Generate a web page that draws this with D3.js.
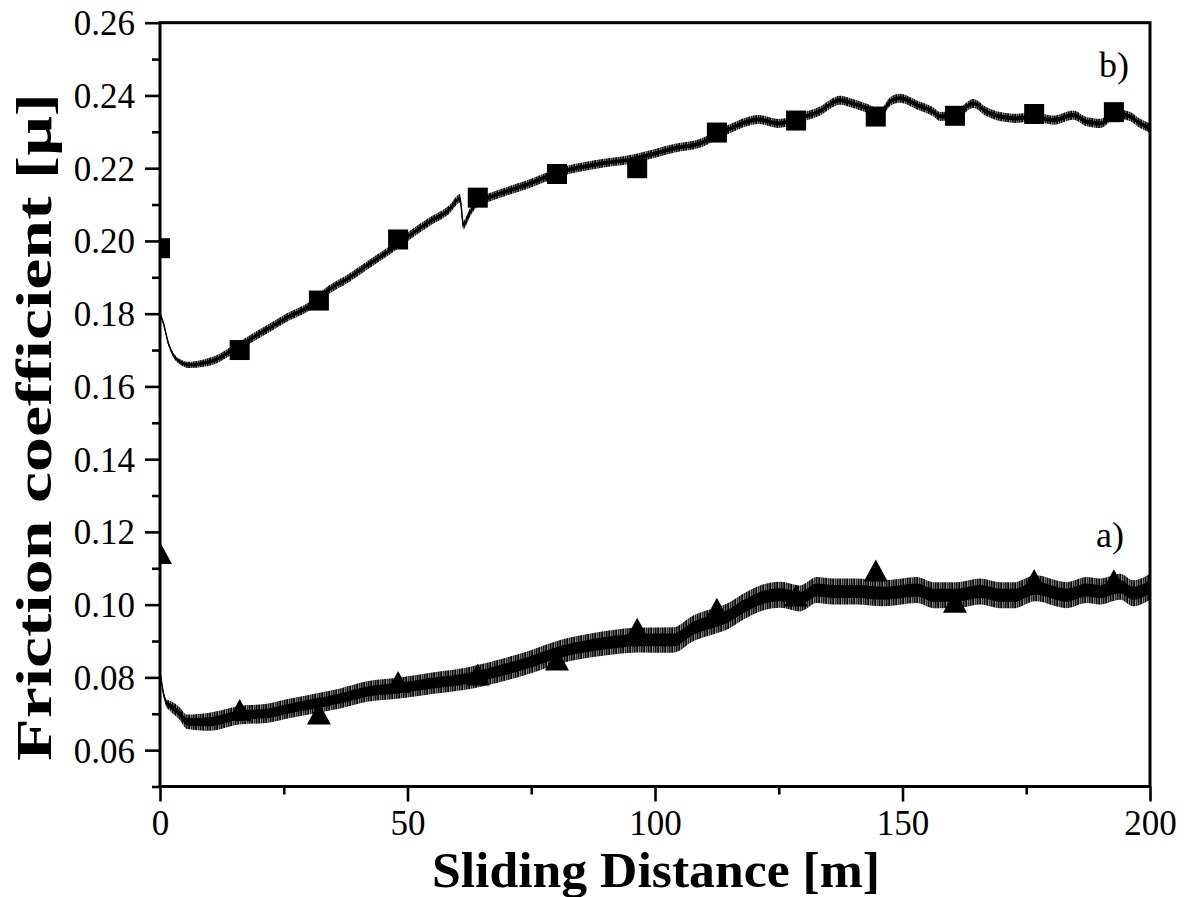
<!DOCTYPE html>
<html>
<head>
<meta charset="utf-8">
<script src="https://cdn.jsdelivr.net/npm/d3@7"></script>
<style>
  html, body { margin: 0; padding: 0; background: #fff; }
  svg { display: block; }
  text { font-family: "Liberation Serif", "Times New Roman", serif; fill: #000; }
</style>
</head>
<body>
<svg id="chart" width="1184" height="897"></svg>
<script>
// ---------- data ----------
// series b) : upper curve (squares)
const distB = [0, 0.7, 1.7, 2.7, 4, 6, 8.8, 11.5, 14, 18, 22, 26, 30, 34, 38, 42, 46.5, 50.5, 54.5, 58.5, 60.6, 61.3, 62.5, 64, 67, 74, 81, 87.5, 96, 104, 109, 114.5, 121, 125, 129, 133, 137.4, 140, 142.8, 145.5, 147.5, 149.5, 152.9, 156.2, 157.6, 161.6, 164.3, 167, 169.7, 173.1, 176.4, 180.5, 184.5, 187.2, 190, 193, 196, 198, 200];
const fricB = [0.1801, 0.1773, 0.1718, 0.1686, 0.1668, 0.1659, 0.1664, 0.1675, 0.1695, 0.1728, 0.1760, 0.1792, 0.1819, 0.1865, 0.1897, 0.1934, 0.1975, 0.2016, 0.2053, 0.2087, 0.2117, 0.2044, 0.2075, 0.2105, 0.2122, 0.2154, 0.2190, 0.2209, 0.2227, 0.2255, 0.2268, 0.2305, 0.2334, 0.2323, 0.2337, 0.2355, 0.2387, 0.2378, 0.2365, 0.2351, 0.2383, 0.2392, 0.2374, 0.2355, 0.2342, 0.2355, 0.2378, 0.2355, 0.2342, 0.2337, 0.2342, 0.2332, 0.2346, 0.2328, 0.2323, 0.2350, 0.2342, 0.2323, 0.2310];

// series a) : lower curve (triangles)
const distA = [0, 0.7, 1.3, 2, 4, 5.4, 10, 16, 21.5, 26.3, 31.7, 36.4, 41.8, 48, 55, 62, 68, 74, 81, 87.5, 92.3, 96.6, 103.7, 107.7, 112.6, 114.5, 117.8, 121.2, 125.3, 129.3, 132.7, 136, 140.7, 146.2, 152.9, 156.2, 161, 165.7, 169.7, 172.6, 176.8, 183.2, 187.2, 189.9, 194, 196.6, 200];
const fricA = [0.0816, 0.0756, 0.0729, 0.0722, 0.0700, 0.0678, 0.0678, 0.0696, 0.0701, 0.0715, 0.0729, 0.0742, 0.0761, 0.0770, 0.0784, 0.0797, 0.0816, 0.0839, 0.0871, 0.0889, 0.0898, 0.0903, 0.0903, 0.0935, 0.0958, 0.0967, 0.0994, 0.1017, 0.1027, 0.1017, 0.1040, 0.1036, 0.1036, 0.1031, 0.1040, 0.1026, 0.1026, 0.1036, 0.1026, 0.1026, 0.1045, 0.1026, 0.1040, 0.1036, 0.1049, 0.1031, 0.1049];

// marker points
const markerDist = [0, 16.1, 32.1, 48.1, 64.2, 80.2, 96.4, 112.5, 128.5, 144.6, 160.6, 176.6, 192.7];
const markerB = [0.1980, 0.1700, 0.1836, 0.2004, 0.2119, 0.2184, 0.2200, 0.2298, 0.2331, 0.2342, 0.2344, 0.2349, 0.2354];
const markerA = [0.1142, 0.0710, 0.0701, 0.0787, 0.0808, 0.0849, 0.0934, 0.0989, 0.1025, 0.1094, 0.1008, 0.1068, 0.1067];

// axes
const xMajorTicks = [0, 50, 100, 150, 200];
const xMinorTicks = [25, 75, 125, 175];
const yMajorTicks = [0.06, 0.08, 0.10, 0.12, 0.14, 0.16, 0.18, 0.20, 0.22, 0.24, 0.26];
const yMinorTicks = [0.05, 0.07, 0.09, 0.11, 0.13, 0.15, 0.17, 0.19, 0.21, 0.23, 0.25];
const xTitle = "Sliding Distance [m]";
const yTitle = "Friction coefficient [\u03bc]";
const seriesLabels = ["a)", "b)"];

// ---------- layout ----------
const L = 160, R = 1150, T = 22.7, B = 786.5;
const svg = d3.select("#chart");
const x = d3.scaleLinear().domain([0, 200]).range([L, R]);
const y = d3.scaleLinear().domain([0.05, 0.26]).range([B, T]);

const defs = svg.append("defs");
defs.append("clipPath").attr("id", "plotclip")
  .append("rect").attr("x", L).attr("y", T).attr("width", R - L).attr("height", B - T);
// fine vertical hatching imitating the noisy trace
const pat = defs.append("pattern").attr("id", "noise")
  .attr("patternUnits", "userSpaceOnUse").attr("width", 7).attr("height", 8);
pat.append("rect").attr("width", 7).attr("height", 8).attr("fill", "#9a9a9a");
[[0, 1.1], [2.3, 1.0], [4.1, 1.3], [5.9, 0.8]].forEach(([px, w]) =>
  pat.append("rect").attr("x", px).attr("width", w).attr("height", 8).attr("fill", "#000"));

const plot = svg.append("g").attr("clip-path", "url(#plotclip)");

// band half-widths (px) along distance
const bandB = d3.scaleLinear().domain([0, 3, 12, 200]).range([1.4, 2.6, 4.2, 4.6]).clamp(true);
const bandA = d3.scaleLinear().domain([0, 2, 8, 60, 110, 200]).range([1.6, 5, 9, 11, 13, 13]).clamp(true);

function drawSeries(dist, fric, band, core) {
  const pts = dist.map((d, i) => ({ d, v: fric[i] }));
  const outer = d3.area().curve(d3.curveMonotoneX)
    .x(p => x(p.d)).y0(p => y(p.v) + band(p.d)).y1(p => y(p.v) - band(p.d));
  const inner = d3.area().curve(d3.curveMonotoneX)
    .x(p => x(p.d)).y0(p => y(p.v) + band(p.d) * core).y1(p => y(p.v) - band(p.d) * core);
  plot.append("path").attr("d", outer(pts)).attr("fill", "url(#noise)");
  plot.append("path").attr("d", inner(pts)).attr("fill", "#000");
  plot.append("path").attr("d", d3.line().curve(d3.curveMonotoneX).x(p => x(p.d)).y(p => y(p.v))(pts))
    .attr("fill", "none").attr("stroke", "#000").attr("stroke-width", 1.5);
}
drawSeries(distB, fricB, bandB, 0.45);
drawSeries(distA, fricA, bandA, 0.5);

// markers
plot.selectAll("rect.sq").data(markerDist.map((d, i) => ({ d, v: markerB[i] })))
  .join("rect").attr("class", "sq")
  .attr("x", p => x(p.d) - 10).attr("y", p => y(p.v) - 10)
  .attr("width", 20).attr("height", 20).attr("fill", "#000");
plot.selectAll("path.tri").data(markerDist.map((d, i) => ({ d, v: markerA[i] })))
  .join("path").attr("class", "tri")
  .attr("transform", p => `translate(${x(p.d)},${y(p.v)})`)
  .attr("d", "M0,-11L12,11L-12,11Z").attr("fill", "#000");

// ---------- axes ----------
const axisW = 3;
svg.append("rect").attr("x", L).attr("y", T).attr("width", R - L).attr("height", B - T)
  .attr("fill", "none").attr("stroke", "#000").attr("stroke-width", axisW);

const gx = svg.append("g").attr("transform", `translate(0,${B})`)
  .call(d3.axisBottom(x).tickValues(xMajorTicks).tickSize(15).tickPadding(10).tickFormat(d3.format("d")));
const gxm = svg.append("g").attr("transform", `translate(0,${B})`)
  .call(d3.axisBottom(x).tickValues(xMinorTicks).tickSize(8).tickFormat(""));
const gy = svg.append("g").attr("transform", `translate(${L},0)`)
  .call(d3.axisLeft(y).tickValues(yMajorTicks).tickSize(15).tickPadding(10).tickFormat(d3.format(".2f")));
const gym = svg.append("g").attr("transform", `translate(${L},0)`)
  .call(d3.axisLeft(y).tickValues(yMinorTicks).tickSize(8).tickFormat(""));
[gx, gxm, gy, gym].forEach(g => {
  g.select(".domain").remove();
  g.selectAll(".tick line").attr("stroke", "#000").attr("stroke-width", 2.6);
  g.selectAll(".tick text").attr("font-family", "Liberation Serif, serif")
    .attr("font-size", 35).attr("fill", "#000");
});
gy.selectAll(".tick text").attr("dy", "0.34em");
gx.selectAll(".tick text").attr("dy", "0.68em");

// titles
svg.append("text").attr("x", (L + R) / 2 + 1).attr("y", 887).attr("text-anchor", "middle")
  .attr("font-size", 50).attr("font-weight", "bold")
  .attr("textLength", 448).attr("lengthAdjust", "spacingAndGlyphs").text(xTitle);
svg.append("text").attr("transform", `translate(51,427) rotate(-90)`)
  .attr("text-anchor", "middle").attr("font-size", 50).attr("font-weight", "bold")
  .attr("textLength", 668).attr("lengthAdjust", "spacingAndGlyphs").text(yTitle);

// series labels
svg.append("text").attr("x", 1096).attr("y", 547).attr("font-size", 36).text(seriesLabels[0]);
svg.append("text").attr("x", 1099).attr("y", 77).attr("font-size", 36).text(seriesLabels[1]);
</script>
</body>
</html>
